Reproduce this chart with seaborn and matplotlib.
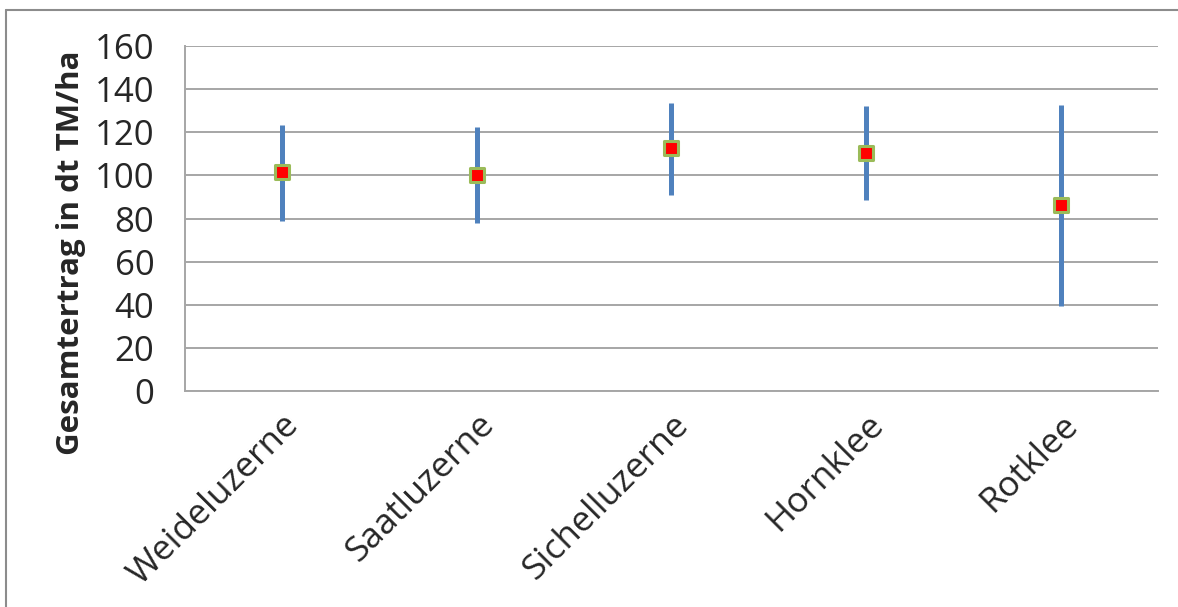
import matplotlib
matplotlib.use("Agg")
import matplotlib.pyplot as plt
from matplotlib.lines import Line2D
import seaborn as sns
import pandas as pd
import numpy as np

# Werte (dt TM/ha)
sorten = ["Weideluzerne", "Saatluzerne", "Sichelluzerne", "Hornklee", "Rotklee"]
mittel = [101.5, 100.2, 112.7, 110.4, 86.5]
minimum = [79.0, 78.0, 91.0, 88.5, 39.5]
maximum = [123.3, 122.5, 133.8, 132.0, 132.5]

df = pd.DataFrame({"sorte": sorten, "mittel": mittel, "min": minimum, "max": maximum})

sns.set_style("white")
plt.rcParams["font.family"] = ["Open Sans", "DejaVu Sans"]

fig = plt.figure(figsize=(11.78, 6.07), dpi=100)
ax = fig.add_axes([0.157, 0.356, 0.826, 0.568])

grau = "#a6a6a6"

# Spannweite als Linie
pos = np.arange(len(df))
ax.vlines(pos, df["min"], df["max"], color="#4f81bd", linewidth=3.6, zorder=2)

# Mittelwert als Punkt
sns.scatterplot(data=df, x="sorte", y="mittel", marker="s", s=95,
                color="#ff0000", edgecolor="#9bbb59", linewidth=2.2,
                zorder=3, ax=ax, legend=False)

ax.set_xlim(-0.5, len(df) - 0.5)
ax.set_ylim(0, 160)
ax.set_yticks(range(0, 161, 20))
ax.yaxis.grid(True, color=grau, linewidth=1.4)
ax.set_axisbelow(True)

for s in ["top", "right"]:
    ax.spines[s].set_visible(False)
for s in ["left", "bottom"]:
    ax.spines[s].set_color(grau)
    ax.spines[s].set_linewidth(1.4)

# Trennstriche zwischen Kategorien
ax.set_xticks(np.arange(-0.5, len(df), 1.0), minor=True)
ax.tick_params(axis="x", which="minor", length=9, width=1.4, color=grau, direction="out")
ax.tick_params(axis="x", which="major", length=0, pad=12)
ax.tick_params(axis="y", length=10, width=1.4, color=grau, direction="out", labelsize=25, pad=12)

ax.set_xticks(pos)
ax.set_xticklabels(sorten, rotation=45, ha="right", rotation_mode="anchor", fontsize=25.5)
ax.set_xlabel("")
ax.set_ylabel("Gesamtertrag in dt TM/ha", fontsize=22.5, fontweight="bold")
ax.yaxis.set_label_coords(-0.102, 0.40)

# Rahmen um das Diagramm
fig.add_artist(Line2D([6 / 1178, 6 / 1178], [0, 1 - 10 / 607], color="#8c8c8c", linewidth=1.5))
fig.add_artist(Line2D([6 / 1178, 1], [1 - 10 / 607, 1 - 10 / 607], color="#8c8c8c", linewidth=1.5))

fig.savefig("out.png", dpi=100)
